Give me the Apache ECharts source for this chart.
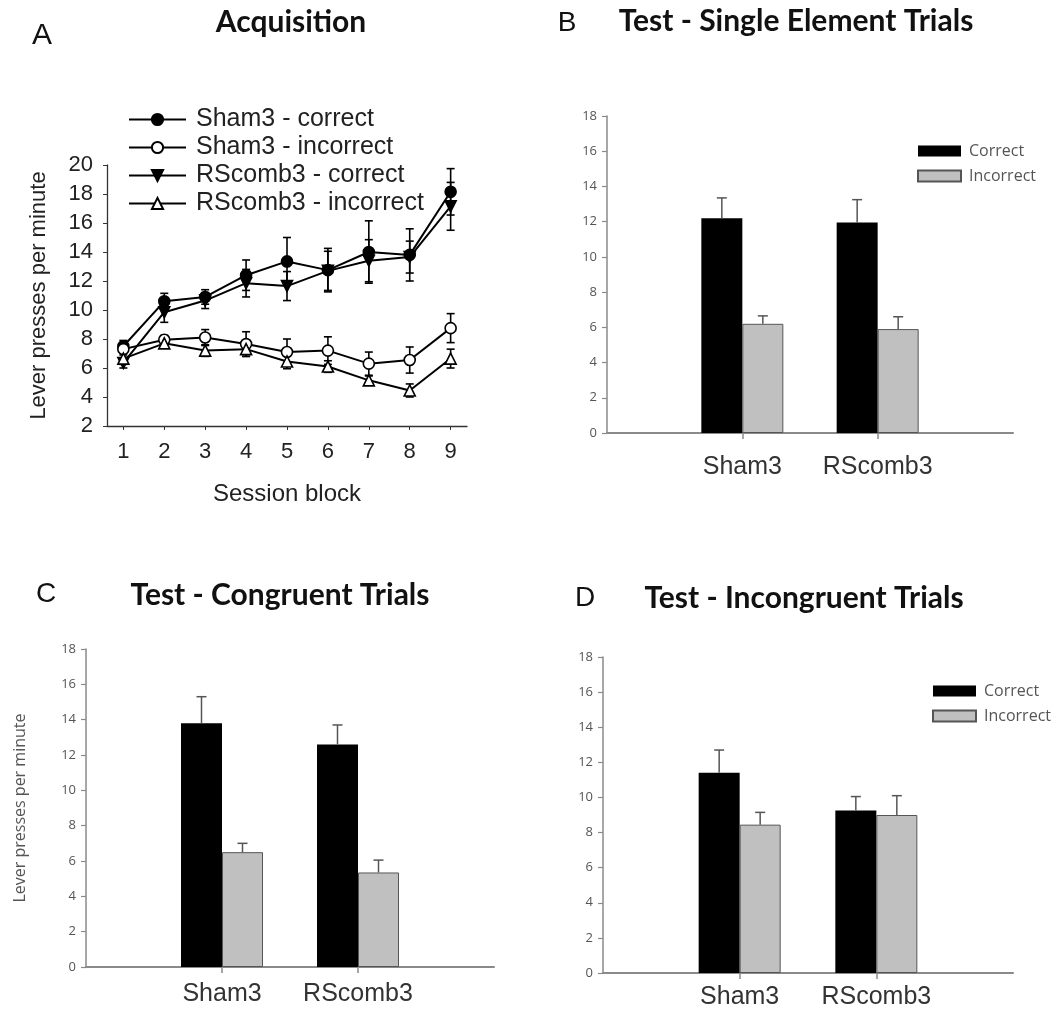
<!DOCTYPE html>
<html>
<head>
<meta charset="utf-8">
<script src="https://cdn.jsdelivr.net/npm/echarts@6/dist/echarts.min.js"></script>
<style>
  html, body { margin: 0; padding: 0; background: #fff; }
  #chart { width: 1053px; height: 1012px; }
</style>
</head>
<body>
<div id="chart"></div>
<script>
// ---- Panel A: acquisition (mean ± SEM lever presses per minute) ----
const sessionBlocks = [1, 2, 3, 4, 5, 6, 7, 8, 9];
const shamCorrect      = [7.5, 10.6, 10.9, 12.4, 13.35, 12.75, 14.0, 13.8, 18.15];
const shamCorrectErr   = [0.4, 0.55, 0.5, 1.05, 1.65, 1.5, 2.15, 1.8, 1.6];
const shamIncorrect    = [7.3, 7.95, 8.1, 7.65, 7.1, 7.2, 6.3, 6.55, 8.75];
const shamIncorrectErr = [0.4, 0.3, 0.55, 0.85, 0.9, 0.95, 0.8, 0.9, 1.0];
const rsCorrect        = [6.35, 9.85, 10.65, 11.85, 11.65, 12.7, 13.4, 13.65, 17.15];
const rsCorrectErr     = [0.35, 0.7, 0.55, 0.95, 1.0, 1.35, 1.45, 1.1, 1.65];
const rsIncorrect      = [6.65, 7.7, 7.2, 7.3, 6.45, 6.1, 5.15, 4.45, 6.65];
const rsIncorrectErr   = [0.4, 0.3, 0.4, 0.5, 0.5, 0.4, 0.3, 0.45, 0.65];
const acqYTicks = [2, 20, 2]; // min, max, step

// ---- Panels B–D: test sessions ----
const groups = ['Sham3', 'RScomb3'];
const singleCorrect      = [12.2, 11.95];
const singleCorrectErr   = [1.15, 1.3];
const singleIncorrect    = [6.2, 5.9];
const singleIncorrectErr = [0.45, 0.7];
const congCorrect        = [13.8, 12.6];
const congCorrectErr     = [1.5, 1.1];
const congIncorrect      = [6.5, 5.35];
const congIncorrectErr   = [0.5, 0.7];
const incongCorrect      = [11.4, 9.25];
const incongCorrectErr   = [1.3, 0.8];
const incongIncorrect    = [8.45, 9.0];
const incongIncorrectErr = [0.7, 1.1];
const barYTicks = [0, 18, 2];

const SANS = '"Liberation Sans", Arial, sans-serif';
const HUMAN = '"Open Sans", "Noto Sans", sans-serif';
const TITLE = 'Lato, "Open Sans", sans-serif';
const BAR_W = 41;

// padded category axis: empty slots at both ends so the groups sit at the inner ticks
const barCats = [''].concat(groups, ['']);
const pad = arr => ['-'].concat(arr, ['-']);

function lineSeries(name, values, symbol, filled, rotate) {
  return {
    type: 'line', name, xAxisIndex: 0, yAxisIndex: 0, z: 3,
    data: sessionBlocks.map((s, i) => [s, values[i]]),
    symbol, symbolSize: 11, symbolRotate: rotate || 0,
    lineStyle: { color: '#000', width: 2 },
    itemStyle: { color: filled ? '#000' : '#fff', borderColor: '#000', borderWidth: 1.6 },
    emphasis: { disabled: true }
  };
}

function acqErrorSeries(values, errors) {
  return {
    type: 'custom', xAxisIndex: 0, yAxisIndex: 0, z: 1, silent: true,
    data: sessionBlocks.map((s, i) => [s, values[i], errors[i]]),
    renderItem(params, api) {
      const x = api.value(0), y = api.value(1), e = api.value(2);
      const t = api.coord([x, y + e]);
      const b = api.coord([x, y - e]);
      const st = { stroke: '#000', lineWidth: 1.6 };
      return { type: 'group', children: [
        { type: 'line', shape: { x1: t[0], y1: t[1], x2: b[0], y2: b[1] }, style: st },
        { type: 'line', shape: { x1: t[0] - 4, y1: t[1], x2: t[0] + 4, y2: t[1] }, style: st },
        { type: 'line', shape: { x1: b[0] - 4, y1: b[1], x2: b[0] + 4, y2: b[1] }, style: st }
      ]};
    }
  };
}

function barSeries(panel, name, values, color, border) {
  return {
    type: 'bar', name, xAxisIndex: panel, yAxisIndex: panel,
    data: pad(values), barWidth: BAR_W, barGap: '0%',
    itemStyle: { color, borderColor: border, borderWidth: border === color ? 0 : 1 },
    emphasis: { disabled: true }
  };
}

function barErrorSeries(panel, values, errors, side) {
  return {
    type: 'custom', xAxisIndex: panel, yAxisIndex: panel, z: 5, silent: true,
    data: groups.map((g, i) => [g, values[i], errors[i]]),
    renderItem(params, api) {
      const base = api.coord([api.value(0), api.value(1)]);
      const top = api.coord([api.value(0), api.value(1) + api.value(2)]);
      const x = base[0] + side * BAR_W / 2;
      const st = { stroke: '#555', lineWidth: 1.5 };
      return { type: 'group', children: [
        { type: 'line', shape: { x1: x, y1: base[1], x2: x, y2: top[1] }, style: st },
        { type: 'line', shape: { x1: x - 5, y1: top[1], x2: x + 5, y2: top[1] }, style: st }
      ]};
    }
  };
}

function barXAxis(grid, labelMargin) {
  return {
    type: 'category', gridIndex: grid, data: barCats, boundaryGap: false,
    axisLine: { lineStyle: { color: '#8a8a8a', width: 2 } },
    axisTick: { interval: (i) => i === 1 || i === 2, length: 6, lineStyle: { color: '#8a8a8a', width: 1.5 } },
    axisLabel: { interval: 0, margin: labelMargin, fontFamily: SANS, fontSize: 25, color: '#333' },
    splitLine: { show: false }
  };
}

function barYAxis(grid, name) {
  return {
    type: 'value', gridIndex: grid, min: barYTicks[0], max: barYTicks[1], interval: barYTicks[2],
    name: name || '', nameLocation: 'middle', nameGap: 58,
    nameTextStyle: { fontFamily: HUMAN, fontSize: 16, color: '#555' },
    axisLine: { show: true, lineStyle: { color: '#8a8a8a', width: 1.5 } },
    axisTick: { show: true, length: 5, lineStyle: { color: '#8a8a8a', width: 1.2 } },
    axisLabel: { margin: 10, fontFamily: HUMAN, fontSize: 13, color: '#555' },
    splitLine: { show: false }
  };
}

function barLegend(left, top) {
  return {
    left, top, orient: 'vertical', icon: 'rect', itemWidth: 43, itemHeight: 11, itemGap: 9,
    data: ['Correct', 'Incorrect'], selectedMode: false,
    textStyle: { fontFamily: HUMAN, fontSize: 16, color: '#555', lineHeight: 16, padding: [0, 0, 0, 3] }
  };
}

function label(text, x, y, font, size, weight, color) {
  return { type: 'text', x, y, silent: true,
    style: { text, font: (weight || 'normal') + ' ' + size + 'px ' + font, fill: color || '#111',
             align: 'center', verticalAlign: 'middle' } };
}

const option = {
  animation: false,
  backgroundColor: '#fff',
  grid: [
    { left: 107, top: 165, width: 360, height: 261 },  // A
    { left: 607, top: 116, width: 406, height: 317 },  // B
    { left: 86,  top: 649, width: 408, height: 318 },  // C
    { left: 603, top: 657, width: 410, height: 316 }   // D
  ],
  xAxis: [
    {
      type: 'value', gridIndex: 0, min: 0.6, max: 9.4,
      name: 'Session block', nameLocation: 'middle', nameGap: 56,
      nameTextStyle: { fontFamily: SANS, fontSize: 24, color: '#222' },
      axisLine: { lineStyle: { color: '#333', width: 1.3 } },
      axisTick: { customValues: sessionBlocks, length: 4, lineStyle: { color: '#333' } },
      axisLabel: { customValues: sessionBlocks, margin: 15, fontFamily: SANS, fontSize: 22, color: '#222' },
      splitLine: { show: false }
    },
    barXAxis(1, 22),
    barXAxis(2, 15),
    barXAxis(3, 12)
  ],
  yAxis: [
    {
      type: 'value', gridIndex: 0, min: acqYTicks[0], max: acqYTicks[1], interval: acqYTicks[2],
      name: 'Lever presses per minute', nameLocation: 'middle', nameGap: 57,
      nameTextStyle: { fontFamily: SANS, fontSize: 22, color: '#222' },
      axisLine: { show: true, lineStyle: { color: '#333', width: 1.3 } },
      axisTick: { show: true, length: 4, lineStyle: { color: '#333' } },
      axisLabel: { margin: 14, fontFamily: SANS, fontSize: 22, color: '#222' },
      splitLine: { show: false }
    },
    barYAxis(1),
    barYAxis(2, 'Lever presses per minute'),
    barYAxis(3)
  ],
  legend: [
    {
      left: 123, top: 102, orient: 'vertical', itemWidth: 57, itemHeight: 14, itemGap: 3,
      selectedMode: false,
      data: ['Sham3 - correct', 'Sham3 - incorrect', 'RScomb3 - correct', 'RScomb3 - incorrect'],
      textStyle: { fontFamily: SANS, fontSize: 25, color: '#222', lineHeight: 25, padding: [0, 0, 0, 5] }
    },
    barLegend(912, 138),
    barLegend(927, 678)
  ],
  graphic: [
    label('A', 42, 36, SANS, 30),
    label('Acquisition', 291, 22, TITLE, 30, 'bold'),
    label('B', 567, 23, SANS, 28),
    label('Test - Single Element Trials', 796, 21, TITLE, 30, 'bold'),
    label('C', 46, 594, SANS, 28),
    label('Test - Congruent Trials', 280, 595, TITLE, 30, 'bold'),
    label('D', 585, 598, SANS, 28),
    label('Test - Incongruent Trials', 804, 598, TITLE, 30, 'bold')
  ],
  series: [
    acqErrorSeries(shamCorrect, shamCorrectErr),
    acqErrorSeries(shamIncorrect, shamIncorrectErr),
    acqErrorSeries(rsCorrect, rsCorrectErr),
    acqErrorSeries(rsIncorrect, rsIncorrectErr),
    lineSeries('Sham3 - correct', shamCorrect, 'circle', true),
    lineSeries('Sham3 - incorrect', shamIncorrect, 'circle', false),
    lineSeries('RScomb3 - correct', rsCorrect, 'triangle', true, 180),
    lineSeries('RScomb3 - incorrect', rsIncorrect, 'triangle', false),

    barSeries(1, 'Correct', singleCorrect, '#000', '#000'),
    barSeries(1, 'Incorrect', singleIncorrect, '#c0c0c0', '#555'),
    barErrorSeries(1, singleCorrect, singleCorrectErr, -1),
    barErrorSeries(1, singleIncorrect, singleIncorrectErr, 1),

    barSeries(2, 'Correct', congCorrect, '#000', '#000'),
    barSeries(2, 'Incorrect', congIncorrect, '#c0c0c0', '#555'),
    barErrorSeries(2, congCorrect, congCorrectErr, -1),
    barErrorSeries(2, congIncorrect, congIncorrectErr, 1),

    barSeries(3, 'Correct', incongCorrect, '#000', '#000'),
    barSeries(3, 'Incorrect', incongIncorrect, '#c0c0c0', '#555'),
    barErrorSeries(3, incongCorrect, incongCorrectErr, -1),
    barErrorSeries(3, incongIncorrect, incongIncorrectErr, 1)
  ]
};

const chart = echarts.init(document.getElementById('chart'), null, { renderer: 'canvas' });
chart.setOption(option);
</script>
</body>
</html>
